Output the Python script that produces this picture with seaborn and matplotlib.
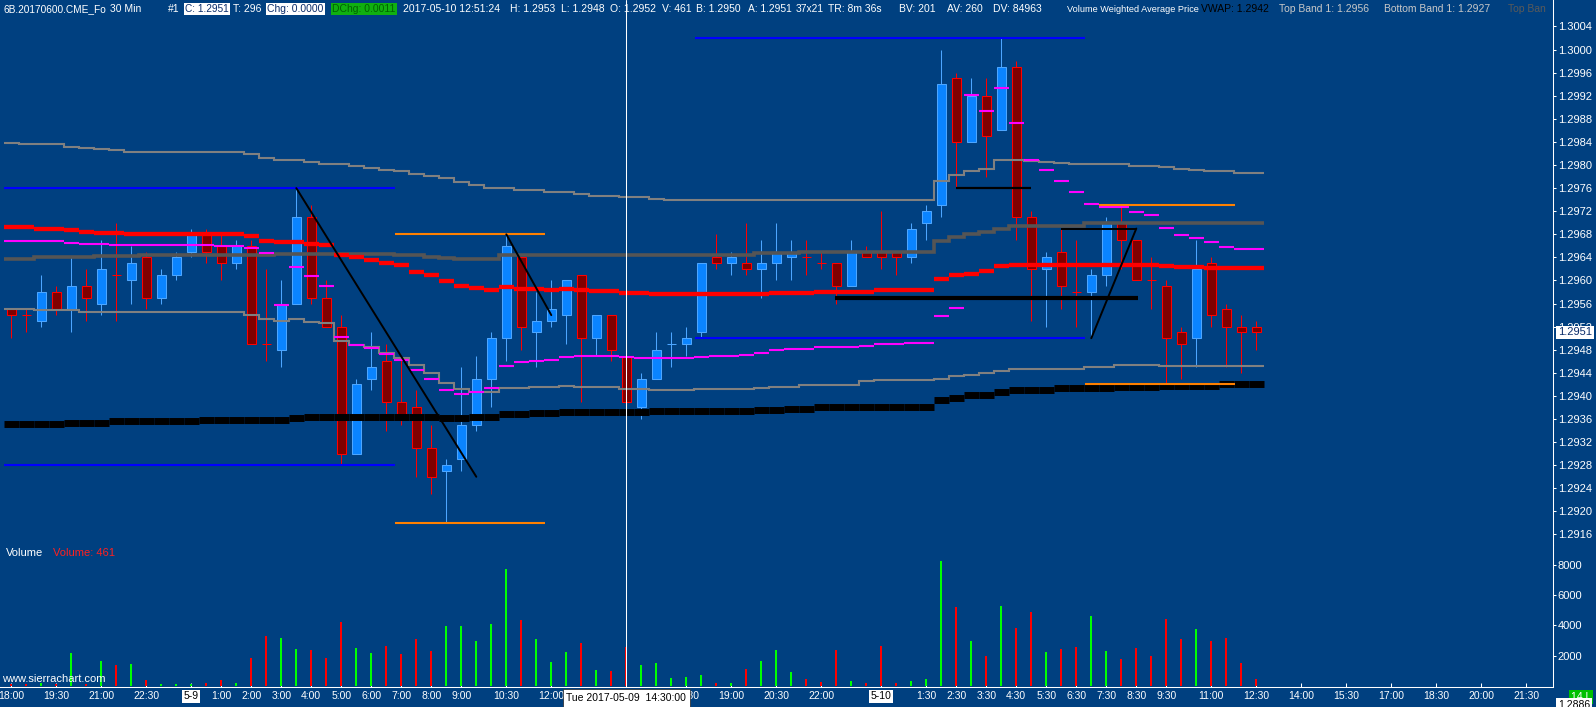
import numpy as np
import pandas as pd
import matplotlib
matplotlib.use("Agg")
import matplotlib.pyplot as plt
import seaborn as sns
from matplotlib.lines import Line2D

# 6B 30 min bars, 2017-05-08 18:00 .. 2017-05-10 12:30 (84 bars)
opens = [
    1.2955, 1.2954, 1.2953, 1.2958, 1.2955, 1.2959, 1.2956, 1.2961, 1.2960, 1.2964, 1.2957, 1.2961,
    1.2965, 1.2968, 1.2966, 1.2963, 1.2966, 1.2949, 1.2948, 1.2956, 1.2971, 1.2957, 1.2952, 1.2930,
    1.2943, 1.2946, 1.2939, 1.2938, 1.2931, 1.2927, 1.2929, 1.2935, 1.2943, 1.2950, 1.2964, 1.2951,
    1.2953, 1.2954, 1.2961, 1.2950, 1.2954, 1.2947, 1.2938, 1.2943, 1.2949, 1.2949, 1.2951, 1.2964,
    1.2963, 1.2963, 1.2962, 1.2963, 1.2964, 1.2964, 1.2963, 1.2963, 1.2959, 1.2965, 1.2965, 1.2965,
    1.2964, 1.2970, 1.2973, 1.2995, 1.2984, 1.2992, 1.2986, 1.2997, 1.2971, 1.2962, 1.2965, 1.2958,
    1.2958, 1.2961, 1.2970, 1.2967, 1.2960, 1.2959, 1.2951, 1.2950, 1.2963, 1.2955, 1.2952, 1.2952,
]
highs = [
    1.2955, 1.2955, 1.2961, 1.2959, 1.2964, 1.2962, 1.2967, 1.2970, 1.2966, 1.2965, 1.2962, 1.2965,
    1.2969, 1.2969, 1.2968, 1.2967, 1.2967, 1.2962, 1.2960, 1.2976, 1.2973, 1.2960, 1.2954, 1.2943,
    1.2951, 1.2949, 1.2947, 1.2941, 1.2935, 1.2929, 1.2945, 1.2947, 1.2951, 1.2968, 1.2964, 1.2958,
    1.2960, 1.2960, 1.2961, 1.2954, 1.2954, 1.2949, 1.2944, 1.2951, 1.2951, 1.2952, 1.2963, 1.2968,
    1.2965, 1.2970, 1.2967, 1.2970, 1.2967, 1.2967, 1.2965, 1.2963, 1.2967, 1.2966, 1.2972, 1.2965,
    1.2970, 1.2973, 1.3000, 1.2996, 1.2995, 1.2995, 1.3002, 1.2998, 1.2972, 1.2965, 1.2969, 1.2967,
    1.2962, 1.2971, 1.2973, 1.2967, 1.2964, 1.2960, 1.2952, 1.2967, 1.2964, 1.2956, 1.2954, 1.2953,
]
lows = [
    1.2950, 1.2951, 1.2952, 1.2954, 1.2951, 1.2953, 1.2954, 1.2953, 1.2956, 1.2955, 1.2956, 1.2960,
    1.2964, 1.2963, 1.2960, 1.2962, 1.2949, 1.2946, 1.2945, 1.2956, 1.2956, 1.2952, 1.2928, 1.2930,
    1.2941, 1.2934, 1.2935, 1.2926, 1.2923, 1.2918, 1.2927, 1.2934, 1.2938, 1.2946, 1.2948, 1.2945,
    1.2952, 1.2949, 1.2939, 1.2947, 1.2946, 1.2938, 1.2936, 1.2943, 1.2945, 1.2947, 1.2950, 1.2962,
    1.2961, 1.2961, 1.2957, 1.2960, 1.2960, 1.2961, 1.2962, 1.2956, 1.2959, 1.2964, 1.2962, 1.2961,
    1.2963, 1.2967, 1.2971, 1.2976, 1.2984, 1.2978, 1.2986, 1.2967, 1.2953, 1.2952, 1.2955, 1.2952,
    1.2950, 1.2959, 1.2962, 1.2960, 1.2955, 1.2942, 1.2943, 1.2945, 1.2952, 1.2945, 1.2944, 1.2948,
]
closes = [
    1.2954, 1.2954, 1.2958, 1.2955, 1.2959, 1.2957, 1.2962, 1.2961, 1.2963, 1.2957, 1.2961, 1.2964,
    1.2968, 1.2965, 1.2963, 1.2966, 1.2949, 1.2949, 1.2956, 1.2971, 1.2957, 1.2952, 1.2930, 1.2942,
    1.2945, 1.2939, 1.2936, 1.2931, 1.2926, 1.2928, 1.2935, 1.2943, 1.2950, 1.2966, 1.2952, 1.2953,
    1.2955, 1.2960, 1.2950, 1.2954, 1.2948, 1.2939, 1.2943, 1.2948, 1.2949, 1.2950, 1.2963, 1.2963,
    1.2964, 1.2962, 1.2963, 1.2965, 1.2965, 1.2964, 1.2963, 1.2959, 1.2965, 1.2964, 1.2964, 1.2964,
    1.2969, 1.2972, 1.2994, 1.2984, 1.2992, 1.2985, 1.2997, 1.2971, 1.2962, 1.2964, 1.2959, 1.2958,
    1.2961, 1.2970, 1.2967, 1.2960, 1.2960, 1.2950, 1.2949, 1.2962, 1.2954, 1.2952, 1.2951, 1.2951,
]
volumes = [
    150, 120, 200, 150, 2200, 100, 1630, 1370, 1435, 380, 160, 160,
    160, 200, 380, 200, 1826, 3326, 3195, 2413, 2348, 1826, 4239, 2478,
    2152, 2608, 2087, 3130, 2282, 3978, 3978, 3000, 4109, 7696, 4369, 3130,
    1565, 2217, 2869, 1043, 978, 2543, 1369, 1500, 520, 587, 717, 200,
    200, 1108, 1630, 2348, 913, 450, 250, 2348, 300, 170, 2608, 170,
    320, 450, 8283, 5217, 3000, 1956, 5282, 3848, 4891, 2217, 2413, 2543,
    4630, 2282, 1761, 2478, 1956, 4435, 3130, 3782, 3000, 3195, 1500, 461,
]

# study lines, one value per bar
upper_band = [
    1.29838, 1.29837, 1.29837, 1.29837, 1.29832, 1.29830, 1.29827, 1.29826, 1.29823, 1.29823, 1.29823, 1.29823,
    1.29823, 1.29823, 1.29822, 1.29822, 1.29819, 1.29812, 1.29809, 1.29808, 1.29805, 1.29802, 1.29802, 1.29798,
    1.29795, 1.29792, 1.29790, 1.29784, 1.29781, 1.29777, 1.29771, 1.29766, 1.29761, 1.29761, 1.29756, 1.29756,
    1.29753, 1.29753, 1.29749, 1.29746, 1.29746, 1.29744, 1.29744, 1.29742, 1.29740, 1.29740, 1.29740, 1.29740,
    1.29740, 1.29740, 1.29740, 1.29740, 1.29740, 1.29740, 1.29740, 1.29740, 1.29740, 1.29740, 1.29740, 1.29740,
    1.29740, 1.29740, 1.29773, 1.29782, 1.29790, 1.29793, 1.29809, 1.29809, 1.29807, 1.29805, 1.29803, 1.29802,
    1.29801, 1.29801, 1.29801, 1.29799, 1.29799, 1.29796, 1.29794, 1.29792, 1.29790, 1.29789, 1.29787, 1.29787,
]
mid_band = [
    1.29638, 1.29638, 1.29640, 1.29640, 1.29640, 1.29640, 1.29642, 1.29642, 1.29642, 1.29644, 1.29644, 1.29644,
    1.29644, 1.29644, 1.29644, 1.29644, 1.29644, 1.29644, 1.29646, 1.29646, 1.29646, 1.29646, 1.29646, 1.29646,
    1.29646, 1.29646, 1.29644, 1.29644, 1.29641, 1.29639, 1.29638, 1.29638, 1.29638, 1.29644, 1.29644, 1.29644,
    1.29644, 1.29645, 1.29645, 1.29645, 1.29645, 1.29645, 1.29645, 1.29645, 1.29645, 1.29645, 1.29645, 1.29645,
    1.29645, 1.29645, 1.29648, 1.29648, 1.29648, 1.29650, 1.29650, 1.29650, 1.29650, 1.29650, 1.29650, 1.29650,
    1.29650, 1.29650, 1.29669, 1.29675, 1.29681, 1.29684, 1.29690, 1.29694, 1.29694, 1.29694, 1.29694, 1.29694,
    1.29699, 1.29699, 1.29700, 1.29700, 1.29700, 1.29700, 1.29700, 1.29700, 1.29700, 1.29700, 1.29700, 1.29700,
]
red_avg = [
    1.29692, 1.29692, 1.29690, 1.29690, 1.29687, 1.29684, 1.29683, 1.29683, 1.29681, 1.29681, 1.29681, 1.29681,
    1.29681, 1.29681, 1.29680, 1.29680, 1.29677, 1.29669, 1.29666, 1.29666, 1.29664, 1.29661, 1.29645, 1.29640,
    1.29636, 1.29630, 1.29626, 1.29615, 1.29609, 1.29599, 1.29590, 1.29587, 1.29583, 1.29588, 1.29585, 1.29585,
    1.29583, 1.29585, 1.29584, 1.29582, 1.29582, 1.29578, 1.29578, 1.29576, 1.29576, 1.29576, 1.29576, 1.29576,
    1.29576, 1.29576, 1.29576, 1.29578, 1.29578, 1.29578, 1.29580, 1.29580, 1.29580, 1.29580, 1.29583, 1.29583,
    1.29583, 1.29583, 1.29603, 1.29610, 1.29612, 1.29617, 1.29625, 1.29627, 1.29627, 1.29627, 1.29627, 1.29627,
    1.29627, 1.29627, 1.29627, 1.29627, 1.29627, 1.29625, 1.29623, 1.29623, 1.29622, 1.29621, 1.29621, 1.29621,
]
magenta_line = [
    1.29669, 1.29669, 1.29668, 1.29668, 1.29665, 1.29664, 1.29663, 1.29661, 1.29661, 1.29661, 1.29661, 1.29661,
    1.29661, 1.29661, 1.29659, 1.29659, 1.29656, 1.29648, 1.29557, 1.29624, 1.29607, 1.29591, 1.29502, 1.29488,
    1.29483, 1.29473, 1.29463, 1.29445, 1.29430, 1.29411, 1.29404, 1.29407, 1.29414, 1.29452, 1.29458, 1.29461,
    1.29463, 1.29467, 1.29470, 1.29470, 1.29470, 1.29468, 1.29466, 1.29466, 1.29466, 1.29466, 1.29468, 1.29470,
    1.29470, 1.29471, 1.29475, 1.29479, 1.29482, 1.29482, 1.29484, 1.29485, 1.29485, 1.29487, 1.29490, 1.29490,
    1.29492, 1.29492, 1.29538, 1.29553, 1.29922, 1.29894, 1.29934, 1.29873, 1.29808, 1.29791, 1.29772, 1.29753,
    1.29732, 1.29728, 1.29727, 1.29718, 1.29713, 1.29691, 1.29679, 1.29673, 1.29667, 1.29658, 1.29655, 1.29655,
]
lower_band = [
    1.29551, 1.29551, 1.29549, 1.29549, 1.29549, 1.29545, 1.29545, 1.29545, 1.29545, 1.29545, 1.29545, 1.29545,
    1.29545, 1.29545, 1.29545, 1.29545, 1.29540, 1.29533, 1.29530, 1.29533, 1.29528, 1.29526, 1.29496, 1.29489,
    1.29485, 1.29474, 1.29466, 1.29453, 1.29439, 1.29422, 1.29412, 1.29407, 1.29407, 1.29414, 1.29414, 1.29416,
    1.29416, 1.29418, 1.29416, 1.29416, 1.29416, 1.29412, 1.29412, 1.29410, 1.29410, 1.29410, 1.29412, 1.29412,
    1.29412, 1.29412, 1.29414, 1.29416, 1.29416, 1.29419, 1.29419, 1.29419, 1.29419, 1.29426, 1.29427, 1.29427,
    1.29427, 1.29427, 1.29430, 1.29434, 1.29437, 1.29440, 1.29443, 1.29446, 1.29447, 1.29447, 1.29447, 1.29447,
    1.29450, 1.29450, 1.29453, 1.29453, 1.29453, 1.29452, 1.29452, 1.29452, 1.29452, 1.29452, 1.29452, 1.29452,
]
vwap = [
    1.29352, 1.29352, 1.29352, 1.29352, 1.29354, 1.29354, 1.29354, 1.29356, 1.29356, 1.29356, 1.29356, 1.29356,
    1.29356, 1.29358, 1.29358, 1.29358, 1.29358, 1.29359, 1.29359, 1.29361, 1.29363, 1.29363, 1.29363, 1.29363,
    1.29363, 1.29363, 1.29363, 1.29363, 1.29363, 1.29361, 1.29361, 1.29363, 1.29363, 1.29368, 1.29368, 1.29370,
    1.29370, 1.29372, 1.29372, 1.29372, 1.29372, 1.29372, 1.29372, 1.29374, 1.29374, 1.29374, 1.29374, 1.29374,
    1.29374, 1.29374, 1.29375, 1.29375, 1.29377, 1.29377, 1.29380, 1.29380, 1.29380, 1.29380, 1.29380, 1.29380,
    1.29380, 1.29380, 1.29393, 1.29397, 1.29401, 1.29401, 1.29407, 1.29410, 1.29411, 1.29411, 1.29413, 1.29413,
    1.29414, 1.29414, 1.29416, 1.29416, 1.29416, 1.29417, 1.29417, 1.29417, 1.29417, 1.29420, 1.29420, 1.29420,
]

# hand drawn lines: price level and bar span
blue_levels = [1.2976, 1.2928, 1.3002, 1.2950]
blue_spans = [(-0.5, 25.6), (-0.5, 25.6), (45.6, 71.6), (45.6, 71.6)]
orange_levels = [1.2968, 1.2918, 1.2973, 1.2942]
orange_spans = [(25.6, 35.6), (25.6, 35.6), (72.5, 81.6), (71.6, 81.6)]
black_levels = [1.2957, 1.2976, 1.2969]
black_spans = [(54.9, 75.1), (63.0, 68.0), (70.0, 75.0)]
trend_lines = [((19, 1.2976), (31, 1.2926)), ((33, 1.2968), (36, 1.2954)), ((72, 1.2950), (75, 1.2969))]

time_bars = [0, 3, 6, 9, 12, 14, 16, 18, 20, 22, 24, 26, 28, 30, 33, 36, 45, 48, 51, 54,
             58, 61, 63, 65, 67, 69, 71, 73, 75, 77, 80, 83, 86, 89, 92, 95, 98, 101]
time_labels = ["18:00", "19:30", "21:00", "22:30", "5-9", "1:00", "2:00", "3:00", "4:00", "5:00",
               "6:00", "7:00", "8:00", "9:00", "10:30", "12:00", "17:30", "19:00", "20:30", "22:00",
               "5-10", "1:30", "2:30", "3:30", "4:30", "5:30", "6:30", "7:30", "8:30", "9:30",
               "11:00", "12:30", "14:00", "15:30", "17:00", "18:30", "20:00", "21:30"]
date_labels = ["5-9", "5-10"]
price_labels = ["1.3004", "1.3000", "1.2996", "1.2992", "1.2988", "1.2984", "1.2980", "1.2976",
                "1.2972", "1.2968", "1.2964", "1.2960", "1.2956", "1.2952", "1.2948", "1.2944",
                "1.2940", "1.2936", "1.2932", "1.2928", "1.2924", "1.2920", "1.2916"]
volume_ticks = [2000, 4000, 6000, 8000]
cursor_bar = 41
last_price = "1.2951"

# header pieces: text, left pixel, colour, box colour
header = [
    ("6B.20170600.CME_Fo", 4, "white", None),
    ("30 Min", 110, "white", None),
    ("#1", 168, "white", None),
    ("C: 1.2951", 185, "#0B2D6B", "white"),
    ("T: 296", 233, "white", None),
    ("Chg: 0.0000", 267, "#0B2D6B", "white"),
    ("DChg: 0.0011", 332, "#006400", "#10B010"),
    ("2017-05-10 12:51:24", 403, "white", None),
    ("H: 1.2953", 510, "white", None),
    ("L: 1.2948", 561, "white", None),
    ("O: 1.2952", 610, "white", None),
    ("V: 461", 662, "white", None),
    ("B: 1.2950", 696, "white", None),
    ("A: 1.2951", 748, "white", None),
    ("37x21", 796, "white", None),
    ("TR: 8m 36s", 828, "white", None),
    ("BV: 201", 899, "white", None),
    ("AV: 260", 947, "white", None),
    ("DV: 84963", 993, "white", None),
    ("Volume Weighted Average Price", 1067, "white", None),
    ("VWAP: 1.2942", 1201, "black", None),
    ("Top Band 1: 1.2956", 1279, "#C8C8C8", None),
    ("Bottom Band 1: 1.2927", 1384, "#C8C8C8", None),
    ("Top Ban", 1508, "#5A5A5A", None),
]

W, H = 1596, 707
BG = "#004080"

sns.set_theme(style="dark")
plt.rcParams["font.family"] = ["Liberation Sans", "DejaVu Sans"]


def fx(px):
    return px / W


def fy(py):
    return 1 - py / H


fig = plt.figure(figsize=(W / 100, H / 100), dpi=100, facecolor=BG)
ax_p = fig.add_axes([0, fy(545), fx(1553), 545 / H])
ax_v = fig.add_axes([0, fy(687), fx(1553), (687 - 545) / H])

n = len(opens)
idx = np.arange(n)
o = np.array(opens)
h = np.array(highs)
l = np.array(lows)
c = np.array(closes)
prev_c = np.r_[c[0], c[:-1]]
up = (c > o) | ((c == o) & (c > prev_c))

wick_col = np.where(up, "#4DA6FF", "#FF0000")
fill_col = np.where(up, "#0A84FF", "#800000")

# candles
ax_p.vlines(idx, l, h, colors=wick_col, lw=0.75, zorder=2)
body = c != o
ax_p.bar(idx[body], np.abs(c - o)[body], bottom=np.minimum(o, c)[body], width=0.56,
         color=fill_col[body], edgecolor=wick_col[body], linewidth=0.75, zorder=3)
ax_p.hlines(o[~body], idx[~body] - 0.3, idx[~body] + 0.3, colors=wick_col[~body], lw=0.75, zorder=3)

# studies
edges = np.arange(n + 1) - 0.5
ax_p.stairs(upper_band, edges, baseline=None, color="#808080", lw=1.5, zorder=4)
ax_p.stairs(lower_band, edges, baseline=None, color="#808080", lw=1.5, zorder=4)
ax_p.stairs(mid_band, edges, baseline=None, color="#555555", lw=2.6, zorder=4)
ax_p.hlines(red_avg, idx - 0.5, idx + 0.5, colors="#FF0000", lw=3.1, zorder=5)
ax_p.hlines(magenta_line, idx - 0.5, idx + 0.5, colors="#FF00FF", lw=1.5, zorder=5)
ax_p.hlines(vwap, idx - 0.5, idx + 0.5, colors="black", lw=5.0, zorder=5)

# drawings
for lev, (a, b) in zip(blue_levels, blue_spans):
    ax_p.hlines(lev, a, b, colors="#0000FF", lw=1.5, zorder=6)
for lev, (a, b) in zip(orange_levels, orange_spans):
    ax_p.hlines(lev, a, b, colors="#FF8000", lw=1.5, zorder=6)
for lev, (a, b), lw in zip(black_levels, black_spans, [3.0, 1.6, 1.4]):
    ax_p.hlines(lev, a, b, colors="black", lw=lw, zorder=6)
for (x0, y0), (x1, y1) in trend_lines:
    ax_p.plot([x0, x1], [y0, y1], color="black", lw=1.4, zorder=6)

# volume
vol_df = pd.DataFrame({"bar": idx, "volume": volumes, "dir": np.where(up, "up", "down")})
sns.barplot(data=vol_df, x="bar", y="volume", hue="dir", palette={"up": "#00FF00", "down": "#FF0000"},
            native_scale=True, dodge=False, width=0.14, errorbar=None, saturation=1,
            legend=False, linewidth=0, ax=ax_v)

# axes styling
xlim = (-11.3 / 15, (1553 - 11.3) / 15)
for ax in (ax_p, ax_v):
    ax.set_facecolor(BG)
    ax.grid(False)
    ax.set_xlim(*xlim)
    ax.set_xlabel("")
    ax.set_ylabel("")
    for s in ("top", "left"):
        ax.spines[s].set_visible(False)
    ax.spines["right"].set_color("white")
    ax.spines["right"].set_linewidth(0.75)
    ax.yaxis.set_ticks_position("right")
    ax.tick_params(axis="y", direction="out", length=2.2, width=0.75, color="white",
                   labelcolor="white", labelsize=8, pad=1.2, right=True, left=False,
                   labelright=True, labelleft=False)

ax_p.spines["bottom"].set_visible(False)
ax_p.set_ylim(1.291418, 1.300859)
ax_p.set_yticks([float(s) for s in price_labels])
ax_p.set_yticklabels(price_labels)
ax_p.tick_params(axis="x", bottom=False, labelbottom=False)

ax_v.set_ylim(-66, 9307)
ax_v.set_yticks(volume_ticks)
ax_v.set_yticklabels([str(v) for v in volume_ticks])
ax_v.spines["bottom"].set_color("white")
ax_v.spines["bottom"].set_linewidth(0.75)
ax_v.set_xticks(time_bars)
ax_v.set_xticklabels(time_labels)
ax_v.tick_params(axis="x", direction="in", length=3.2, width=0.75, color="white",
                 labelcolor="white", labelsize=7.5, pad=3, bottom=True)
for t in ax_v.get_xticklabels():
    if t.get_text() in date_labels:
        t.set_color("black")
        t.set_bbox(dict(boxstyle="square,pad=0.15", fc="white", ec="none"))

# current price marker
ax_p.annotate(last_price, xy=(1, float(last_price)), xycoords=("axes fraction", "data"),
              xytext=(3.6, 0), textcoords="offset points", ha="left", va="center",
              fontsize=8, color="#0B2D6B", annotation_clip=False, zorder=20,
              bbox=dict(boxstyle="square,pad=0.15", fc="white", ec="none"))

# cursor
fig.canvas.draw()
cx = ax_v.transData.transform((cursor_bar, 0))[0] / W
fig.add_artist(Line2D([cx, cx], [fy(687), 1.0], transform=fig.transFigure, color="white", lw=0.75, zorder=2))
ax_v.annotate("Tue 2017-05-09  14:30:00", xy=(cursor_bar, 0), xycoords=("data", "axes fraction"),
              xytext=(0, -8), textcoords="offset points", ha="center", va="center",
              fontsize=7.5, color="black", annotation_clip=False, zorder=30,
              bbox=dict(boxstyle="square,pad=0.35", fc="white", ec="#202020", lw=0.5))

# header line: each piece at its place, shrunk only if it would run into the next one
renderer = fig.canvas.get_renderer()
hsize = 7.5
starts = [p[1] for p in header] + [1553]
for k, (s, x0, col, fc) in enumerate(header):
    t = fig.text(fx(x0), fy(9), s, color=col, fontsize=hsize, ha="left", va="center", zorder=5)
    if fc:
        t.set_bbox(dict(boxstyle="square,pad=0.12", fc=fc, ec="none"))
    room = starts[k + 1] - x0 - 4
    w = t.get_window_extent(renderer).width
    if w > room:
        t.set_fontsize(hsize * room / w)

fig.text(fx(6), fy(553), "Volume", color="white", fontsize=8, ha="left", va="center")
fig.text(fx(53), fy(553), "Volume: 461", color="#FF2020", fontsize=8, ha="left", va="center")
fig.text(fx(2), fy(679), "www.sierrachart.com", color="white", fontsize=8, ha="left", va="center")

fig.text(fx(1581), fy(697), "14 L", color="white", fontsize=7.5, ha="center", va="center",
         bbox=dict(boxstyle="square,pad=0.2", fc="#00C000", ec="none"))
fig.text(fx(1574), fy(705), "1.2886", color="black", fontsize=7.5, ha="center", va="center",
         bbox=dict(boxstyle="square,pad=0.15", fc="white", ec="none"), zorder=10)

fig.savefig("out.png", dpi=100, facecolor=BG)
